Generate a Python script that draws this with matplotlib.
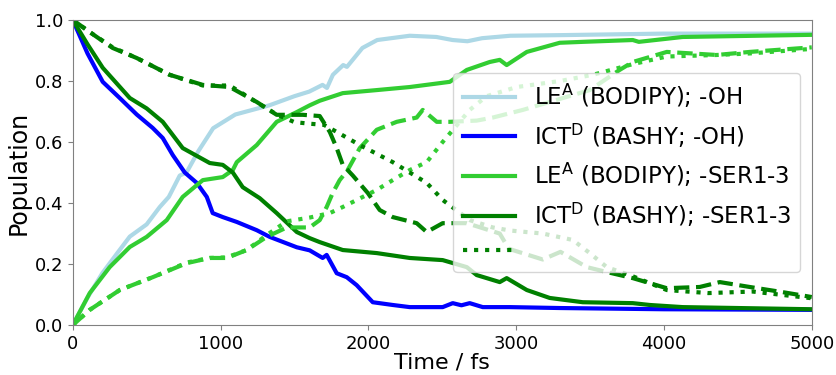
import numpy as np
import matplotlib
matplotlib.use("Agg")
import matplotlib.pyplot as plt


#data
t_le_oh = [0, 100, 200, 300, 386, 500, 589, 650, 724, 770, 850, 950, 1100, 1330, 1500, 1600, 1690, 1720, 1760, 1830, 1855, 1960, 2060, 2280, 2460, 2570, 2670, 2770, 2960, 3300, 4000, 5000]
le_oh = [0, 0.09, 0.17, 0.235, 0.29, 0.33, 0.387, 0.42, 0.49, 0.50, 0.57, 0.645, 0.69, 0.72, 0.75, 0.765, 0.787, 0.777, 0.82, 0.852, 0.846, 0.908, 0.934, 0.948, 0.944, 0.934, 0.93, 0.94, 0.948, 0.95, 0.955, 0.955]

t_ict_oh = [0, 100, 203, 318, 433, 541, 609, 677, 758, 839, 907, 947, 1015, 1110, 1245, 1333, 1516, 1603, 1691, 1718, 1786, 1854, 1921, 2030, 2165, 2280, 2503, 2571, 2630, 2686, 2774, 2957, 3295, 4000, 5000]
ict_oh = [1.0, 0.89, 0.797, 0.744, 0.69, 0.646, 0.613, 0.557, 0.50, 0.466, 0.42, 0.367, 0.354, 0.338, 0.311, 0.289, 0.255, 0.245, 0.22, 0.23, 0.17, 0.157, 0.131, 0.075, 0.066, 0.059, 0.059, 0.072, 0.065, 0.072, 0.059, 0.059, 0.056, 0.052, 0.05]

t_le_ser = [0, 115, 250, 386, 500, 636, 744, 880, 1015, 1083, 1110, 1245, 1380, 1516, 1603, 1671, 1827, 2057, 2280, 2551, 2666, 2821, 2889, 2936, 3072, 3295, 3451, 3789, 3830, 4127, 5000]
le_ser = [0, 0.105, 0.19, 0.256, 0.289, 0.344, 0.42, 0.475, 0.485, 0.508, 0.534, 0.59, 0.666, 0.698, 0.72, 0.735, 0.76, 0.77, 0.78, 0.797, 0.836, 0.862, 0.869, 0.852, 0.895, 0.925, 0.928, 0.934, 0.928, 0.944, 0.951]

t_ict_ser = [0, 100, 203, 386, 500, 609, 744, 927, 1015, 1083, 1150, 1265, 1380, 1516, 1603, 1671, 1827, 2057, 2280, 2503, 2666, 2733, 2889, 2936, 3072, 3227, 3451, 3789, 3904, 4127, 5000]
ict_ser = [1.0, 0.92, 0.843, 0.744, 0.71, 0.666, 0.58, 0.531, 0.525, 0.50, 0.452, 0.416, 0.367, 0.305, 0.285, 0.272, 0.246, 0.236, 0.22, 0.213, 0.19, 0.164, 0.141, 0.154, 0.115, 0.089, 0.075, 0.072, 0.066, 0.059, 0.052]

# second and third trajectory sets (dashed / dotted)
t_le_ser2 = [0, 115, 318, 541, 771, 927, 1042, 1177, 1312, 1448, 1603, 1671, 1718, 1759, 1806, 1860, 1942, 2057, 2192, 2327, 2368, 2463, 2551, 2733, 2842, 3045, 3275, 3498, 3700, 3789, 4019, 4357, 4580, 5000]
le_ser2 = [0, 0.05, 0.115, 0.157, 0.203, 0.22, 0.22, 0.246, 0.289, 0.32, 0.32, 0.344, 0.387, 0.433, 0.475, 0.508, 0.58, 0.64, 0.666, 0.68, 0.705, 0.666, 0.666, 0.67, 0.68, 0.705, 0.738, 0.77, 0.836, 0.862, 0.895, 0.885, 0.895, 0.91]

t_le_ser3 = [0, 115, 318, 541, 771, 927, 1042, 1177, 1312, 1448, 1600, 1739, 1827, 2057, 2165, 2280, 2395, 2503, 2686, 2800, 3004, 3300, 3518, 3789, 4019, 4357, 4580, 5000]
le_ser3 = [0, 0.05, 0.115, 0.157, 0.205, 0.22, 0.222, 0.246, 0.295, 0.34, 0.352, 0.367, 0.387, 0.443, 0.475, 0.508, 0.534, 0.60, 0.705, 0.75, 0.78, 0.80, 0.82, 0.855, 0.88, 0.885, 0.89, 0.905]

t_ict_ser2 = [0, 115, 270, 433, 656, 880, 1062, 1245, 1380, 1556, 1671, 1739, 1786, 1827, 1895, 1996, 2077, 2165, 2327, 2395, 2503, 2666, 2889, 2950, 3180, 3300, 3478, 3613, 3789, 4019, 4242, 4378, 4580, 4804, 5000]
ict_ser2 = [1.0, 0.96, 0.908, 0.875, 0.82, 0.787, 0.78, 0.731, 0.689, 0.689, 0.685, 0.633, 0.58, 0.525, 0.49, 0.433, 0.377, 0.354, 0.334, 0.305, 0.334, 0.334, 0.30, 0.25, 0.215, 0.24, 0.19, 0.174, 0.154, 0.121, 0.125, 0.141, 0.125, 0.108, 0.092]

t_ict_ser3 = [0, 115, 270, 433, 656, 880, 1062, 1245, 1380, 1500, 1600, 1700, 1786, 1942, 2165, 2280, 2395, 2503, 2686, 2842, 2957, 3180, 3383, 3498, 3613, 3789, 4019, 4300, 4600, 5000]
ict_ser3 = [1.0, 0.96, 0.91, 0.875, 0.82, 0.785, 0.785, 0.73, 0.69, 0.665, 0.66, 0.656, 0.633, 0.59, 0.534, 0.50, 0.466, 0.41, 0.344, 0.32, 0.31, 0.30, 0.279, 0.236, 0.19, 0.16, 0.115, 0.105, 0.11, 0.088]

labels = ["LE$^\\mathrm{A}$ (BODIPY); -OH",
          "ICT$^\\mathrm{D}$ (BASHY; -OH)",
          "LE$^\\mathrm{A}$ (BODIPY); -SER1-3",
          "ICT$^\\mathrm{D}$ (BASHY); -SER1-3",
          ""]


#plot
fig, ax = plt.subplots(figsize=(8.36, 3.75), dpi=100)
fig.subplots_adjust(left=0.087, right=0.971, top=0.947, bottom=0.133)

lw = 3
l1, = ax.plot(t_le_oh, le_oh, color="lightblue", lw=lw)
l2, = ax.plot(t_ict_oh, ict_oh, color="blue", lw=lw)
l3, = ax.plot(t_le_ser, le_ser, color="limegreen", lw=lw)
l4, = ax.plot(t_ict_ser, ict_ser, color="green", lw=lw)
ax.plot(t_le_ser2, le_ser2, color="limegreen", lw=lw, ls="--")
ax.plot(t_ict_ser2, ict_ser2, color="green", lw=lw, ls="--")
ax.plot(t_le_ser3, le_ser3, color="limegreen", lw=lw, ls=":")
l5, = ax.plot(t_ict_ser3, ict_ser3, color="green", lw=lw, ls=":")

ax.set_xlim(0, 5000)
ax.set_ylim(0, 1)
ax.set_xlabel("Time / fs", fontsize=16, labelpad=0)
ax.set_ylabel("Population", fontsize=17, labelpad=3)
ax.tick_params(labelsize=13, color="gray")
for s in ax.spines.values():
    s.set_color("gray")

ax.legend([l1, l2, l3, l4, l5], labels, loc="center right", fontsize=16.5, handlelength=2.3)

fig.savefig("out.png", dpi=100)
